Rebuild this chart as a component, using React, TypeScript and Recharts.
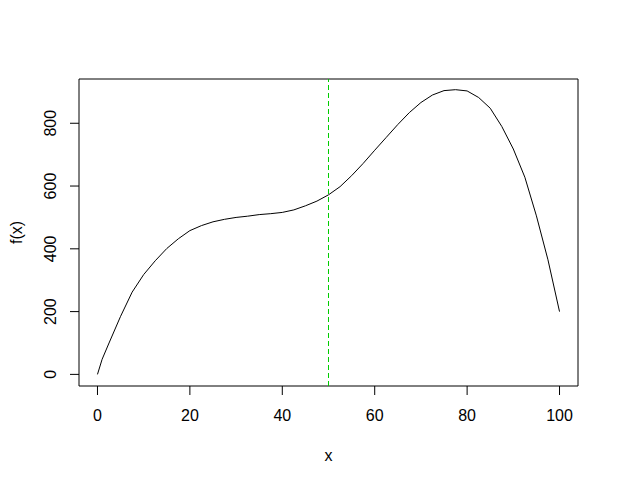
import React from "react";
import {
  LineChart,
  Line,
  XAxis,
  YAxis,
  ReferenceArea,
  ReferenceLine,
} from "recharts";

// values
const xs = [
  0, 1, 2.5, 5, 7.5, 10, 12.5, 15, 17.5, 20, 22.5, 25, 27.5, 30, 32.5, 35, 37.5,
  40, 42.5, 45, 47.5, 50, 52.5, 55, 57.5, 60, 62.5, 65, 67.5, 70, 72.5, 75, 77.5,
  80, 82.5, 85, 87.5, 90, 92.5, 95, 97.5, 100,
];
const fx = [
  0, 48, 100, 185, 262, 318, 362, 401, 432, 458, 474, 486, 494, 500, 504, 509,
  512, 516, 524, 537, 552, 572, 598, 633, 672, 714, 755, 796, 834, 866, 890, 904,
  907, 903, 882, 848, 790, 718, 628, 505, 365, 200,
];
const xTicks = [0, 20, 40, 60, 80, 100];
const yTicks = [0, 200, 400, 600, 800];
const cutoff = 50;

const data = xs.map((x, i) => ({ x, fx: fx[i] }));

const FONT = "'Liberation Sans', Arial, sans-serif";

const XTick = (props: any) => {
  const { x, y, payload } = props;
  return (
    <text x={x} y={y + 26} textAnchor="middle" fontSize={16} fontFamily={FONT} fill="#000">
      {payload.value}
    </text>
  );
};

const YTick = (props: any) => {
  const { x, y, payload } = props;
  const bx = x - 14;
  return (
    <text
      x={bx}
      y={y}
      textAnchor="middle"
      fontSize={16}
      fontFamily={FONT}
      fill="#000"
      transform={`rotate(-90, ${bx}, ${y})`}
    >
      {payload.value}
    </text>
  );
};

export default function App() {
  return (
    <div style={{ position: "absolute", left: 0, top: 0, background: "#fff" }}>
      <LineChart
        width={619}
        height={484}
        data={data}
        margin={{ top: 79, right: 41, bottom: 0, left: 0 }}
      >
        <XAxis
          dataKey="x"
          type="number"
          domain={[-4, 104]}
          ticks={xTicks}
          axisLine={false}
          tickSize={9}
          tickMargin={0}
          tickLine={{ stroke: "#000" }}
          tick={<XTick />}
          height={98}
          label={{
            content: (p: any) => (
              <text
                x={p.viewBox.x + p.viewBox.width / 2}
                y={p.viewBox.y + 75}
                textAnchor="middle"
                fontSize={16}
                fontFamily={FONT}
                fill="#000"
              >
                x
              </text>
            ),
          }}
        />
        <YAxis
          type="number"
          domain={[-37, 941]}
          ticks={yTicks}
          axisLine={false}
          tickSize={9}
          tickMargin={0}
          tickLine={{ stroke: "#000" }}
          tick={<YTick />}
          width={79}
          label={{
            content: (p: any) => {
              const cx = 22;
              const cy = p.viewBox.y + p.viewBox.height / 2;
              return (
                <text
                  x={cx}
                  y={cy}
                  textAnchor="middle"
                  fontSize={16}
                  fontFamily={FONT}
                  fill="#000"
                  transform={`rotate(-90, ${cx}, ${cy})`}
                >
                  f(x)
                </text>
              );
            },
          }}
        />
        <ReferenceArea
          x1={-4}
          x2={104}
          y1={-37}
          y2={941}
          fill="none"
          stroke="#000"
          strokeWidth={1}
          fillOpacity={0}
        />
        <Line
          type="linear"
          dataKey="fx"
          stroke="#000"
          strokeWidth={1}
          dot={false}
          isAnimationActive={false}
        />
        <ReferenceLine x={cutoff} stroke="#00CD00" strokeWidth={1} strokeDasharray="5 3" />
      </LineChart>
    </div>
  );
}
